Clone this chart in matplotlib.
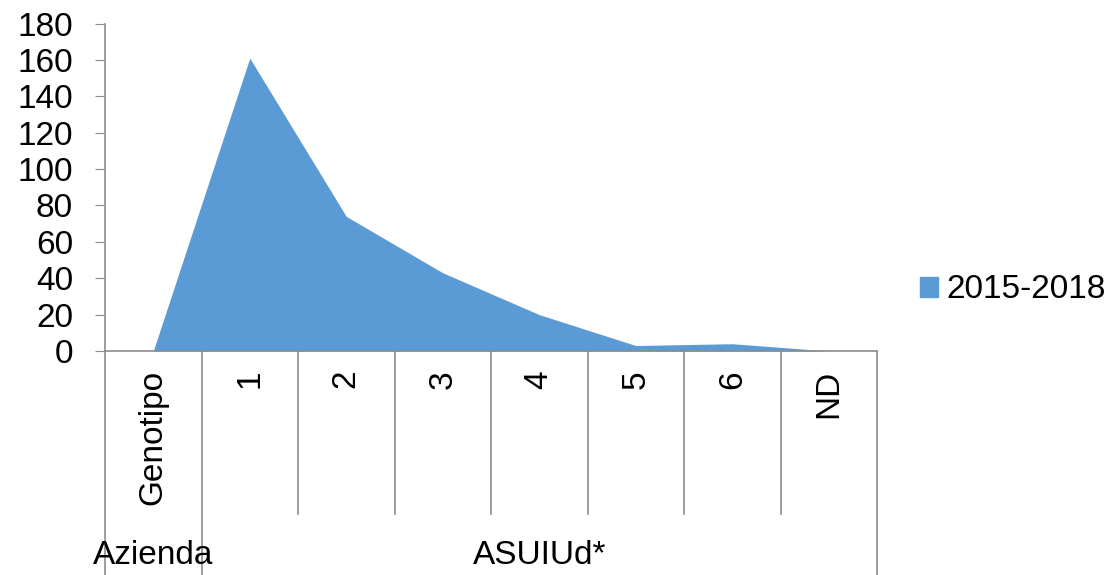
import matplotlib
matplotlib.use("Agg")
import matplotlib.pyplot as plt
import matplotlib.transforms as mtransforms
from matplotlib.patches import Patch
import numpy as np

plt.rcParams['font.family'] = ['Liberation Sans', 'DejaVu Sans']

# dati
categorie = ["Genotipo", "1", "2", "3", "4", "5", "6", "ND"]
gruppi = ["Azienda", "ASUIUd*"]
gruppo_n = [1, 7]  # quante categorie per gruppo
valori = [0, 161, 74, 43, 20, 3, 4, 0]
serie = "2015-2018"
yticks = [0, 20, 40, 60, 80, 100, 120, 140, 160, 180]

W, H = 1117, 575
fig = plt.figure(figsize=(W / 100, H / 100), dpi=100)
x0, x1, y0, y1 = 105, 877, 351, 23.5
ax = fig.add_axes([x0 / W, 1 - y0 / H, (x1 - x0) / W, (y0 - y1) / H])

grigio = "#8c8c8c"
blu = "#5B9BD5"
fs = 24

x = np.arange(len(categorie)) + 0.5
ax.fill_between(x, valori, 0, color=blu, linewidth=0)
ax.set_xlim(0, len(categorie))
ax.set_ylim(0, 180)
ax.set_yticks(yticks)
ax.tick_params(axis='y', labelsize=fs, length=7, color=grigio, pad=16)
ax.set_xticks([])
for s in ["top", "right"]:
    ax.spines[s].set_visible(False)
for s in ["left", "bottom"]:
    ax.spines[s].set_color(grigio)
    ax.spines[s].set_linewidth(1.2)

# asse categorie a due livelli
trans = mtransforms.blended_transform_factory(ax.transData, ax.transAxes)
h_px = y0 - y1
basso_int = -(514 - y0) / h_px
basso_ext = -(H - y0) / h_px
confini = np.cumsum([0] + gruppo_n)
for k in range(len(categorie) + 1):
    fondo = basso_ext if k in confini else basso_int
    ax.plot([k, k], [0, fondo], color=grigio, lw=1.2, transform=trans, clip_on=False)

for xi, c in zip(x, categorie):
    ax.text(xi, -(370 - y0) / h_px, c, rotation=90, ha='center', va='top',
            fontsize=fs, transform=trans)

for g, a, b in zip(gruppi, confini[:-1], confini[1:]):
    ax.text((a + b) / 2, -(556 - y0) / h_px, g, ha='center', va='center',
            fontsize=fs, transform=trans)

fig.legend(handles=[Patch(color=blu, label=serie)], loc='center left',
           bbox_to_anchor=(920 / W, 1 - 290 / H), frameon=False, fontsize=24,
           handlelength=0.55, handleheight=0.55, handletextpad=0.25, borderaxespad=0,
           borderpad=0)

fig.savefig("out.png", dpi=100)
